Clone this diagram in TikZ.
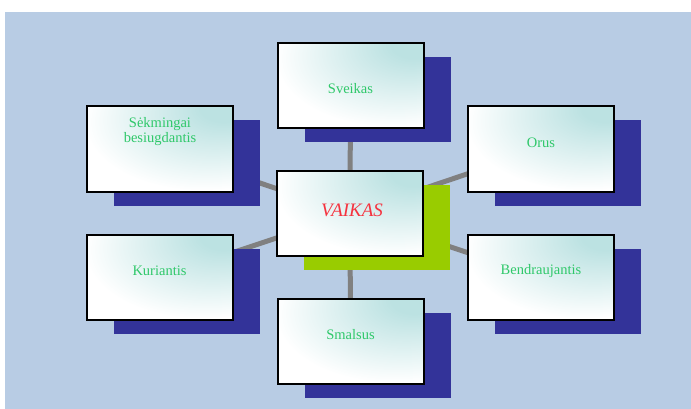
\documentclass[tikz,border=0pt]{standalone}
\usepackage{fontspec}
\setmainfont{Liberation Serif}
\usetikzlibrary{shadows}
\definecolor{bgblue}{HTML}{B8CCE4}
\definecolor{shadowblue}{HTML}{333399}
\definecolor{limegr}{HTML}{99CC00}
\definecolor{linegray}{HTML}{808080}
\definecolor{txtgreen}{HTML}{2FC86A}
\definecolor{txtred}{HTML}{F5333F}
\definecolor{tealc}{HTML}{BCE2E2}
\pgfdeclareradialshading{boxshade}{\pgfpoint{24bp}{26bp}}{color(0bp)=(tealc); color(8bp)=(tealc); color(40bp)=(white); color(100bp)=(white)}
\pgfdeclarelayer{bglayer}
\pgfdeclarelayer{linelayer}
\pgfsetlayers{bglayer,linelayer,main}
\begin{document}
\begin{tikzpicture}[x=1pt,y=-1pt,
  box/.style={draw=black, line width=2pt, minimum width=146pt, minimum height=85pt,
    inner sep=0pt, shade, shading=boxshade,
    general shadow={shadow xshift=27pt, shadow yshift=-14pt, fill=shadowblue}},
  centerbox/.style={box, general shadow={shadow xshift=27pt, shadow yshift=-14pt, fill=limegr}},
  lbl/.style={text=txtgreen, font=\fontsize{14.5}{15}\selectfont, align=center, inner sep=0pt},
  mainlbl/.style={text=txtred, font=\fontsize{19}{20}\selectfont\itshape, inner sep=0pt},
  conn/.style={draw=linegray, line width=5pt}]
\useasboundingbox (0,0) rectangle (691,409);
\begin{pgfonlayer}{bglayer}
  \fill[bgblue] (5,12) rectangle (691,409);
\end{pgfonlayer}

\node[box] (sveikas) at (350.5,85.5) {};
\node[box] (sekm) at (159.5,149) {};
\node[box] (orus) at (541,149) {};
\node[box] (kur) at (159.5,277) {};
\node[box] (bendr) at (541,277) {};
\node[box] (smalsus) at (350.5,341) {};
\node[centerbox] (vaikas) at (350,213.5) {};

\node[lbl] (t-sveikas) at (350.5,89) {Sveikas};
\node[lbl] (t-sekm) at (160,131.5) {Sėkmingai\\besiugdantis};
\node[lbl] (t-orus) at (541,143) {Orus};
\node[lbl] (t-kur) at (159.5,271) {Kuriantis};
\node[lbl] (t-bendr) at (541,271) {Bendraujantis};
\node[lbl] (t-smalsus) at (350.5,335) {Smalsus};
\node[mainlbl] (t-vaikas) at (352,210) {VAIKAS};

\begin{pgfonlayer}{linelayer}
  \draw[conn] (vaikas.center) -- (sveikas.center);
  \draw[conn] (vaikas.center) -- (sekm.center);
  \draw[conn] (vaikas.center) -- (orus.center);
  \draw[conn] (vaikas.center) -- (kur.center);
  \draw[conn] (vaikas.center) -- (bendr.center);
  \draw[conn] (vaikas.center) -- (smalsus.center);
\end{pgfonlayer}
\end{tikzpicture}
\end{document}
